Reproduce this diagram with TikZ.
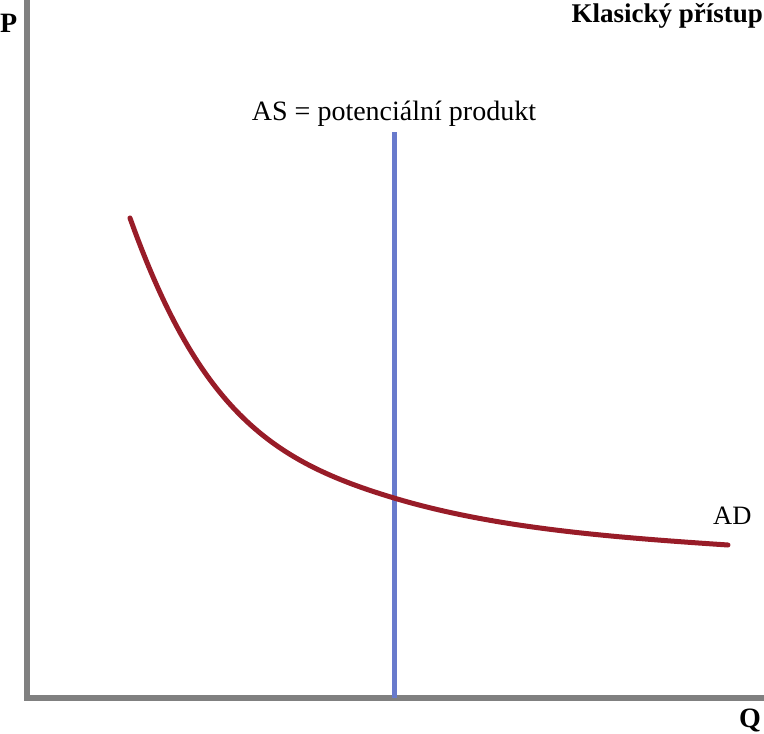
\documentclass[tikz,border=0pt]{standalone}
\usepackage{fontspec}
\setmainfont{Liberation Serif}
\usepackage{tikz}
\usetikzlibrary{calc}
\definecolor{axisgray}{RGB}{128,128,128}
\definecolor{asblue}{RGB}{104,122,204}
\definecolor{adred}{RGB}{152,28,40}
\tikzset{
  axisline/.style={draw=axisgray, line width=6pt},
  asline/.style={draw=asblue, line width=5pt},
  adcurve/.style={draw=adred, line width=5pt, line cap=round},
  lbl/.style={inner sep=0pt, font=\fontsize{28}{32}\selectfont},
  boldlbl/.style={inner sep=0pt, font=\fontsize{28}{32}\selectfont\bfseries},
}

\begin{document}
\begin{tikzpicture}[x=1pt, y=-1pt]
      \useasboundingbox (0,0) rectangle (764,734);

      \coordinate (origin) at (27,698);
      \coordinate (ptop) at (27,0);
      \coordinate (qend) at (764,698);
      \coordinate (astop) at (394,132);
      \coordinate (asbot) at (394,698);
      \coordinate (adstart) at (130,218);
      \coordinate (eq) at (394,498);
      \coordinate (adend) at (728,545);

      \draw[axisline] (ptop) -- (origin) -- (qend);
      \draw[asline] (astop) -- (asbot);

      \draw[adcurve] (adstart) .. controls (200,414) and (274,462) .. (eq)
                               .. controls (494,528) and (608,537) .. (adend);

      \node[boldlbl, anchor=base west] at (0,32) (p) {P};
      \node[boldlbl, anchor=base east] at (761,727) (q) {Q};
      \node[boldlbl, anchor=base east, font=\fontsize{27}{32}\selectfont\bfseries] at (763,22) (titul) {Klasický přístup};
      \node[lbl, anchor=base] at (394,120) (aslabel) {AS = potenciální produkt};
      \node[lbl, anchor=base west, font=\fontsize{26.5}{30}\selectfont] at (713,524) (adlabel) {AD};
\end{tikzpicture}
\end{document}
